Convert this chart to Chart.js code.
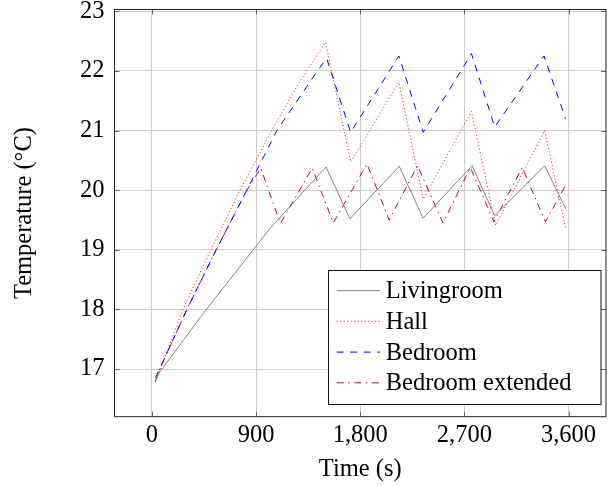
<!DOCTYPE html>
<html>
<head>
<meta charset="utf-8">
<script src="https://cdn.jsdelivr.net/npm/chart.js@4/dist/chart.umd.min.js"></script>
<style>
  html, body { margin: 0; padding: 0; background: #fff; }
  canvas { display: block; }
</style>
</head>
<body>
<canvas id="myChart" width="608" height="486"></canvas>
<script>
// values
const seriesNames = ['Livingroom', 'Hall', 'Bedroom', 'Bedroom extended'];

const livingTime = [30, 450, 1021, 1504, 1711, 2137, 2344, 2767, 2962, 3394, 3575];
const livingTemp = [16.85, 17.95, 19.36, 20.39, 19.52, 20.40, 19.53, 20.41, 19.57, 20.41, 19.69];

const hallTime = [30, 267, 509, 760, 1021, 1270, 1501, 1717, 2134, 2344, 2761, 2971, 3394, 3575];
const hallTemp = [16.78, 18.0, 19.0, 20.0, 20.95, 21.8, 22.48, 20.47, 21.81, 19.85, 21.32, 19.41, 21.0, 19.36];

const bedTime = [30, 66, 302, 555, 820, 1079, 1430, 1510, 1717, 2134, 2344, 2761, 2962, 3388, 3574];
const bedTemp = [16.85, 17.0, 18.0, 19.0, 20.0, 21.0, 22.0, 22.21, 20.97, 22.25, 20.97, 22.29, 21.06, 22.25, 21.2];

const extTime = [30, 66, 302, 555, 820, 940, 1110, 1385, 1567, 1858, 2050, 2295, 2515, 2752, 2955, 3200, 3400, 3575];
const extTemp = [16.8, 17.0, 18.0, 19.0, 20.0, 20.37, 19.44, 20.37, 19.45, 20.44, 19.5, 20.41, 19.45, 20.38, 19.47, 20.38, 19.47, 20.08];

const xTicks = [0, 900, 1800, 2700, 3600];
const xTickLabels = ['0', '900', '1,800', '2,700', '3,600'];
const yTicks = [17, 18, 19, 20, 21, 22, 23];
const yTickLabels = ['17', '18', '19', '20', '21', '22', '23'];

const serif = 'Liberation Serif, Times New Roman, serif';

function pts(xs, ys) {
    return xs.map((x, i) => ({x: x, y: ys[i]}));
}

// frame, inner tick marks and the boxed legend like pgfplots
const pgfLook = {
    id: 'pgfLook',
    afterDraw(chart) {
        const ctx = chart.ctx;
        const a = chart.chartArea;
        const xs = chart.scales.x, ys = chart.scales.y;
        ctx.save();
        ctx.strokeStyle = '#666';
        ctx.lineWidth = 1;
        ctx.beginPath();
        xTicks.forEach(v => {
            const px = Math.round(xs.getPixelForValue(v)) + 0.5;
            ctx.moveTo(px, a.bottom); ctx.lineTo(px, a.bottom - 5);
            ctx.moveTo(px, a.top); ctx.lineTo(px, a.top + 5);
        });
        yTicks.forEach(v => {
            const py = Math.round(ys.getPixelForValue(v)) + 0.5;
            ctx.moveTo(a.left, py); ctx.lineTo(a.left + 5, py);
            ctx.moveTo(a.right, py); ctx.lineTo(a.right - 5, py);
        });
        ctx.stroke();

        ctx.strokeStyle = '#222';
        ctx.strokeRect(a.left, a.top, a.right - a.left, a.bottom - a.top);

        // legend
        const bx = 328.5, by = 270.5, bw = 272.5, bh = 134;
        ctx.fillStyle = '#fff';
        ctx.fillRect(bx, by, bw, bh);
        ctx.strokeStyle = '#111';
        ctx.strokeRect(bx, by, bw, bh);
        ctx.font = '24.5px ' + serif;
        ctx.textBaseline = 'alphabetic';
        chart.data.datasets.forEach((ds, i) => {
            const ly = 290.7 + i * 30.7;
            ctx.strokeStyle = ds.borderColor;
            ctx.lineWidth = ds.borderWidth;
            ctx.setLineDash(ds.borderDash || []);
            ctx.beginPath();
            ctx.moveTo(336.7, ly);
            ctx.lineTo(380, ly);
            ctx.stroke();
            ctx.setLineDash([]);
            ctx.fillStyle = '#000';
            ctx.fillText(ds.label, 385.7, ly + 7.5);
        });
        ctx.restore();
    }
};

let myChart = document.getElementById('myChart').getContext('2d');
let lineChart = new Chart(myChart, {
    type: 'line',
    data: {
        datasets: [{
            label: seriesNames[0],
            data: pts(livingTime, livingTemp),
            borderColor: '#808080',
            borderWidth: 1
        }, {
            label: seriesNames[1],
            data: pts(hallTime, hallTemp),
            borderColor: '#ff0000',
            borderWidth: 1,
            borderDash: [1, 2.5]
        }, {
            label: seriesNames[2],
            data: pts(bedTime, bedTemp),
            borderColor: '#0000ff',
            borderWidth: 1,
            borderDash: [7, 6.5]
        }, {
            label: seriesNames[3],
            data: pts(extTime, extTemp),
            borderColor: '#bf0040',
            borderWidth: 1,
            borderDash: [7, 4.5, 1.5, 4.5]
        }]
    },
    options: {
        responsive: false,
        animation: false,
        elements: { point: { radius: 0 }, line: { tension: 0 } },
        layout: { autoPadding: false, padding: { top: 9.5, right: 2, left: 0, bottom: 0 } },
        plugins: {
            legend: { display: false },
            tooltip: { enabled: false }
        },
        scales: {
            x: {
                type: 'linear',
                min: -324,
                max: 3924,
                afterBuildTicks: s => { s.ticks = xTicks.map(v => ({value: v})); },
                afterFit: s => { s.height = 69.3; s.paddingLeft = 0; s.paddingRight = 0; },
                grid: { color: '#cccccc', lineWidth: 1, drawTicks: false },
                border: { display: false },
                ticks: {
                    padding: 4,
                    maxRotation: 0,
                    color: '#000',
                    font: { family: serif, size: 24.5 },
                    callback: v => xTickLabels[xTicks.indexOf(v)]
                },
                title: {
                    display: true,
                    text: 'Time (s)',
                    color: '#000',
                    font: { family: serif, size: 24.5 },
                    padding: { top: 0, bottom: 2 }
                }
            },
            y: {
                type: 'linear',
                min: 16.2,
                max: 23.03,
                afterBuildTicks: s => { s.ticks = yTicks.map(v => ({value: v})); },
                afterFit: s => { s.width = 114.5; s.paddingTop = 0; s.paddingBottom = 0; },
                grid: { color: '#cccccc', lineWidth: 1, drawTicks: false },
                border: { display: false },
                ticks: {
                    padding: 10,
                    color: '#000',
                    font: { family: serif, size: 24.5 },
                    callback: v => yTickLabels[yTicks.indexOf(v)]
                },
                title: {
                    display: true,
                    text: 'Temperature (°C)',
                    color: '#000',
                    font: { family: serif, size: 24.5 },
                    padding: { top: 10, bottom: 0 }
                }
            }
        }
    },
    plugins: [pgfLook]
});
</script>
</body>
</html>
